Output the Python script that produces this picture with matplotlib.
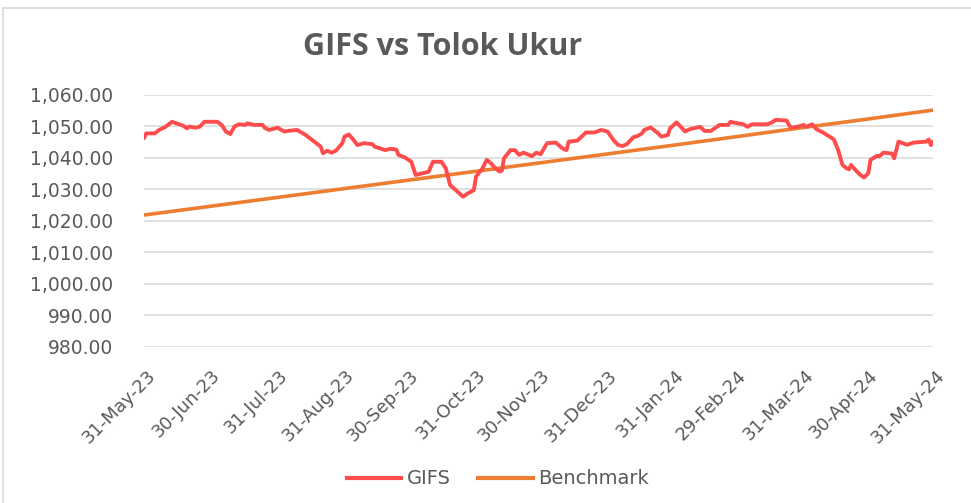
import matplotlib
matplotlib.use("Agg")
import matplotlib.pyplot as plt
import matplotlib.transforms as mtransforms
from matplotlib.lines import Line2D
import datetime as dt

start_date = "2023-05-31"

# GIFS: day offset from start date, and value
gifs_days = [0, 1, 5, 7, 10, 13, 15, 18, 20, 21, 24, 26, 28, 34, 36, 38, 40, 42, 44, 47,
             48, 51, 55, 56, 58, 62, 65, 68, 71, 75, 78, 82, 83, 85, 87, 89, 92, 93, 95, 97,
             99, 102, 106, 107, 112, 114, 117, 118, 121, 124, 126, 130, 132, 134, 138, 140, 142, 144, 147, 148,
             150, 153, 154, 157, 159, 161, 163, 165, 166, 167, 170, 172, 174, 176, 180, 182, 184, 187, 191, 194,
             196, 197, 201, 205, 209, 212, 215, 218, 220, 222, 224, 227, 229, 231, 232, 235, 238, 240, 243, 244,
             247, 249, 251, 253, 258, 260, 263, 267, 271, 272, 274, 278, 280, 282, 289, 291, 293, 298, 300, 303,
             306, 307, 310, 312, 315, 320, 322, 324, 326, 327, 328, 330, 332, 334, 336, 337, 340, 341, 343, 347,
             348, 350, 352, 354, 357, 363, 364, 365, 366]
gifs_values = [1046.3, 1047.8, 1047.8, 1048.9, 1049.9, 1051.5, 1051.0, 1050.3, 1049.4, 1050.0, 1049.6, 1050.0, 1051.5, 1051.5, 1050.5, 1048.4, 1047.6, 1050.0, 1050.7, 1050.5,
               1051.0, 1050.5, 1050.5, 1049.6, 1048.9, 1049.6, 1048.4, 1048.7, 1048.9, 1047.3, 1045.7, 1043.6, 1041.5, 1042.3, 1041.7, 1042.3, 1044.7, 1046.8, 1047.5, 1045.9,
               1044.1, 1044.7, 1044.4, 1043.6, 1042.5, 1042.9, 1042.7, 1041.0, 1040.2, 1038.8, 1034.6, 1035.3, 1035.6, 1038.8, 1038.8, 1036.7, 1031.4, 1030.2, 1028.3, 1027.7,
               1028.7, 1029.8, 1034.1, 1036.7, 1039.4, 1038.3, 1036.7, 1035.7, 1036.0, 1039.9, 1042.5, 1042.5, 1041.0, 1041.7, 1040.6, 1041.7, 1041.2, 1044.7, 1044.9, 1043.1,
               1042.5, 1045.2, 1045.5, 1048.1, 1048.1, 1048.9, 1048.4, 1045.5, 1044.1, 1043.8, 1044.4, 1046.6, 1047.0, 1047.8, 1048.9, 1049.7, 1048.1, 1046.8, 1047.3, 1049.4,
               1051.3, 1049.9, 1048.4, 1049.1, 1049.9, 1048.6, 1048.6, 1050.5, 1050.5, 1051.5, 1051.2, 1050.7, 1049.9, 1050.7, 1050.7, 1051.2, 1052.1, 1051.9, 1049.6, 1049.9,
               1050.5, 1049.9, 1050.7, 1049.1, 1048.1, 1045.9, 1042.5, 1037.8, 1036.7, 1036.4, 1037.8, 1036.2, 1034.8, 1033.8, 1035.2, 1039.4, 1040.7, 1040.5, 1041.7, 1041.4,
               1039.9, 1045.2, 1044.7, 1044.2, 1044.9, 1045.2, 1045.9, 1044.1, 1045.2]

# Benchmark at month ends
bench_dates = ["2023-05-31", "2023-06-30", "2023-07-31", "2023-08-31", "2023-09-30", "2023-10-31",
               "2023-11-30", "2023-12-31", "2024-01-31", "2024-02-29", "2024-03-31", "2024-04-30", "2024-05-31"]
bench_values = [1021.9, 1024.6, 1027.4, 1030.2, 1032.9, 1035.7, 1038.4, 1041.2, 1044.0, 1046.7, 1049.6, 1052.3, 1055.2]

tick_labels = ["31-May-23", "30-Jun-23", "31-Jul-23", "31-Aug-23", "30-Sep-23", "31-Oct-23",
               "30-Nov-23", "31-Dec-23", "31-Jan-24", "29-Feb-24", "31-Mar-24", "30-Apr-24", "31-May-24"]
y_ticks = [980, 990, 1000, 1010, 1020, 1030, 1040, 1050, 1060]

plt.rcParams['font.family'] = ['DejaVu Sans']

W, H = 971, 503
fig = plt.figure(figsize=(W / 100, H / 100), dpi=100)
fig.patch.set_facecolor("white")

# outer chart border (top and left visible)
fig.add_artist(Line2D([3 / W, 1], [1 - 8 / H, 1 - 8 / H], color="#D9D9D9", lw=1.2, transform=fig.transFigure))
fig.add_artist(Line2D([3 / W, 3 / W], [0, 1 - 8 / H], color="#D9D9D9", lw=1.2, transform=fig.transFigure))

ax = fig.add_axes([144 / W, 1 - 347 / H, (933 - 144) / W, (347 - 95) / H])

d0 = dt.datetime.strptime(start_date, "%Y-%m-%d")
gx = [d0 + dt.timedelta(days=d) for d in gifs_days]
bx = [dt.datetime.strptime(s, "%Y-%m-%d") for s in bench_dates]

ax.plot(bx, bench_values, color="#ED7D31", lw=2.6, solid_capstyle="round", label="Benchmark", zorder=3)
ax.plot(gx, gifs_values, color="#FF4D4D", lw=2.8, solid_joinstyle="round", solid_capstyle="round", label="GIFS", zorder=4)

ax.set_xlim(bx[0], bx[-1])
ax.set_ylim(980, 1060)
ax.set_yticks(y_ticks)
ax.set_yticklabels([f"{v:,.2f}" for v in y_ticks])
ax.set_xticks(bx)
ax.set_xticklabels(tick_labels)

ax.grid(axis="y", color="#D9D9D9", lw=1.1)
ax.grid(axis="x", visible=False)
ax.set_axisbelow(True)
for s in ax.spines.values():
    s.set_visible(False)
ax.tick_params(axis="both", length=0, colors="#595959")
ax.tick_params(axis="y", pad=22, labelsize=13.5)
ax.tick_params(axis="x", pad=14, labelsize=13)

offset = mtransforms.ScaledTranslation(2 / 72, 0, fig.dpi_scale_trans)
for lab in ax.get_xticklabels():
    lab.set_rotation(45)
    lab.set_ha("right")
    lab.set_va("top")
    lab.set_rotation_mode("anchor")
    lab.set_transform(lab.get_transform() + offset)

fig.text(443 / W, 1 - 47 / H, "GIFS vs Tolok Ukur", ha="center", va="center",
         fontsize=22, fontweight="bold", color="#595959", family=["Open Sans", "DejaVu Sans"])

handles, labels = ax.get_legend_handles_labels()
order = [1, 0]
leg_handles = [Line2D([], [], color=handles[i].get_color(), lw=3.0) for i in order]
fig.legend(leg_handles, [labels[i] for i in order],
           loc="center", bbox_to_anchor=(498 / W, 1 - 479 / H), ncol=2, frameon=False,
           fontsize=14, labelcolor="#595959", handlelength=2.8, columnspacing=1.4, handletextpad=0.3)

fig.savefig("out.png", dpi=100, facecolor="white")
